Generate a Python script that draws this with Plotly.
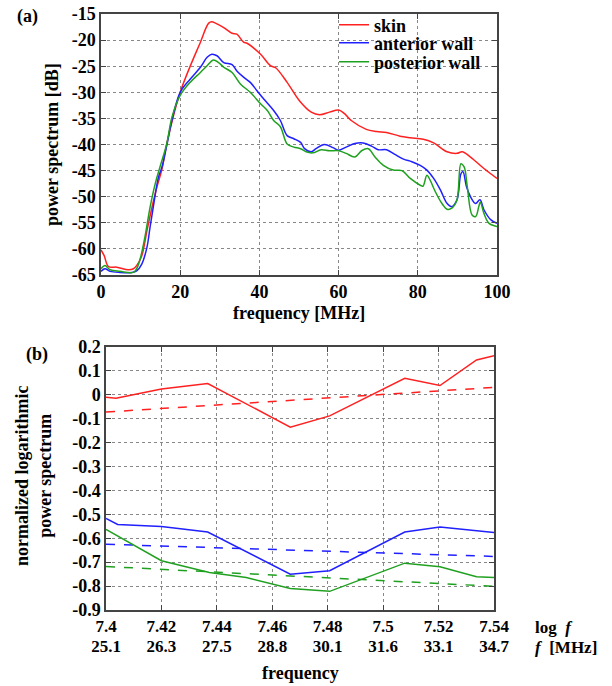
import plotly.graph_objects as go

# ---------------- Panel (a): power spectrum ----------------
skin_f = [0, 0.8, 1.9, 4, 6.9, 8.2, 9, 10.3, 11.6, 12.8, 14.1, 15.4, 16.6, 20, 25.1, 27.2, 28.0, 28.9,
          31.0, 33.1, 34.3, 36.0, 36.9, 40.3, 42.8, 44.1, 47.0, 50.1, 53.1, 55.2, 57.7, 60, 61.5, 63.2,
          67.0, 69.6, 72.1, 75.5, 78.1, 81.4, 84.0, 87.4, 89.9, 91.2, 93.3, 96.7, 100]
skin_db = [-60.2, -61.3, -63.4, -63.5, -64.0, -63.8, -63.2, -61.3, -56.5, -52.3, -48.2, -44.7, -39.9, -30.0,
           -20.4, -16.75, -16.5, -16.75, -17.6, -18.7, -18.85, -20.4, -20.6, -22.7, -24.9, -25.3, -28.1,
           -31.6, -33.8, -34.3, -33.8, -33.4, -34.1, -35.4, -37.1, -37.5, -37.7, -38.4, -38.7, -39.0,
           -39.7, -41.4, -41.7, -41.4, -42.4, -44.6, -46.5]

ant_f = [0, 1, 2.3, 4.8, 7.8, 9, 10.3, 11.6, 12.4, 13.2, 14.5, 15.4, 16.6, 17.9, 20, 22.5, 25.1, 26.8, 28.0,
         29.3, 31, 33.1, 34.3, 36, 37.7, 39.4, 41.1, 43.6, 45.3, 47, 48.7, 50.4, 51.4, 53.1, 54.3, 56.4,
         58.6, 60, 61.9, 64.1, 66.2, 68.3, 70.0, 72.1, 74.2, 76.4, 78.5, 80.6, 82.3, 84, 85.7, 87.4,
         88.6, 89.9, 90.9, 91.4, 92.3, 93.3, 94.6, 95.7, 96.7, 98.4, 100]
ant_db = [-64.3, -63.8, -64.3, -64.5, -64.5, -64.2, -62.9, -59.7, -55.8, -52.0, -46.3, -44.3, -40.2, -35.4,
          -30.0, -27.5, -25.2, -23.3, -22.7, -23.0, -24.3, -24.7, -25.9, -27.1, -28.1, -29.7, -31.3,
          -33.5, -35.4, -38.3, -38.9, -39.6, -40.8, -41.4, -40.8, -40.0, -40.6, -41.1, -40.5, -39.8,
          -39.7, -40.3, -41.0, -41.0, -41.9, -42.8, -43.3, -44.0, -44.9, -46.5, -48.7, -51.3, -51.9,
          -50.6, -45.6, -45.2, -48.1, -50.0, -51.3, -50.6, -52.5, -54.4, -55.1]

post_f = [0, 1, 2.3, 4.8, 8.2, 9, 9.9, 11.1, 12.4, 13.7, 14.9, 16.6, 17.9, 20, 22.5, 25.1, 26.8, 28.4, 29.7,
          31, 33.1, 35.2, 37.7, 40.3, 42, 43.6, 45.3, 47, 48.7, 50.4, 51.8, 53.5, 55.6, 57.7, 60, 61.9,
          64.1, 65.8, 67.5, 69.2, 71.3, 73.8, 76.0, 78.1, 80.6, 81.3, 82.3, 83.1, 84.4, 86.1, 87.4,
          88.6, 89.9, 90.9, 91.7, 92.5, 93.7, 94.6, 95.4, 95.8, 96.7, 98.0, 100]
post_db = [-63.8, -63.2, -64.0, -64.3, -64.5, -63.8, -61.9, -57.7, -52.0, -47.5, -44.3, -39.9, -34.8, -30.6,
           -28.1, -26.2, -24.9, -23.8, -24.3, -25.2, -26.2, -28.4, -30.0, -32.2, -33.5, -35.4, -36.6,
           -39.9, -40.5, -40.8, -41.4, -41.6, -41.0, -41.2, -41.2, -41.7, -42.4, -41.2, -40.8, -42.4,
           -44.0, -44.9, -45.0, -46.5, -47.8, -48.0, -45.9, -46.8, -49.0, -51.3, -52.4, -52.2, -50.6,
           -43.7, -44.3, -48.1, -53.5, -53.8, -51.9, -51.0, -53.2, -55.1, -55.7]

a_xticks = [0, 20, 40, 60, 80, 100]
a_yticks = [-65, -60, -55, -50, -45, -40, -35, -30, -25, -20, -15]

# ---------------- Panel (b): normalized log power spectrum ----------------
skin_logf = [7.400, 7.4036, 7.420, 7.4367, 7.4665, 7.4807, 7.5078, 7.5205, 7.5337, 7.540]
skin_val = [-0.010, -0.014, 0.024, 0.047, -0.135, -0.088, 0.069, 0.039, 0.146, 0.164]
ant_logf = [7.400, 7.4042, 7.420, 7.4367, 7.4665, 7.4807, 7.5078, 7.5205, 7.540]
ant_val = [-0.517, -0.542, -0.551, -0.574, -0.750, -0.736, -0.574, -0.553, -0.576]
post_logf = [7.400, 7.420, 7.4373, 7.4506, 7.4665, 7.4807, 7.5078, 7.5205, 7.5337, 7.540]
post_val = [-0.5625, -0.694, -0.743, -0.764, -0.810, -0.822, -0.704, -0.719, -0.761, -0.764]

fit_logf = [7.40, 7.54]
skin_fit = [-0.072, 0.031]
ant_fit = [-0.625, -0.676]
post_fit = [-0.718, -0.801]

b_xticks = [7.40, 7.42, 7.44, 7.46, 7.48, 7.50, 7.52, 7.54]
b_xlabels = ["7.4", "7.42", "7.44", "7.46", "7.48", "7.5", "7.52", "7.54"]
b_flabels = ["25.1", "26.3", "27.5", "28.8", "30.1", "31.6", "33.1", "34.7"]
b_yticks = [0.2, 0.1, 0.0, -0.1, -0.2, -0.3, -0.4, -0.5, -0.6, -0.7, -0.8, -0.9]
b_ylabels = ["0.2", "0.1", "0", "-0.1", "-0.2", "-0.3", "-0.4", "-0.5", "-0.6", "-0.7", "-0.8", "-0.9"]

names = ["skin", "anterior wall", "posterior wall"]
colors = ["#ff2020", "#2020ff", "#20a020"]
legend_ids = ["legend", "legend2", "legend3"]

W, H = 612, 686
FS = 18
fig = go.Figure()

for f, d, n, c, lg in zip([skin_f, ant_f, post_f], [skin_db, ant_db, post_db], names, colors, legend_ids):
    fig.add_trace(go.Scatter(x=f, y=d, mode="lines", name=n, line=dict(color=c, width=1.5),
                             xaxis="x", yaxis="y", line_shape="spline", legend=lg))

for lf, v, fv, c in zip([skin_logf, ant_logf, post_logf], [skin_val, ant_val, post_val],
                        [skin_fit, ant_fit, post_fit], colors):
    fig.add_trace(go.Scatter(x=lf, y=v, mode="lines", showlegend=False, line=dict(color=c, width=1.5),
                             xaxis="x2", yaxis="y2"))
    fig.add_trace(go.Scatter(x=fit_logf, y=fv, mode="lines", showlegend=False,
                             line=dict(color=c, width=1.5, dash="dash"), xaxis="x2", yaxis="y2"))

# transparent carrier trace so the secondary frequency axis (MHz labels) gets drawn
fig.add_trace(go.Scatter(x=fit_logf, y=skin_fit, mode="lines", showlegend=False, hoverinfo="skip",
                         line=dict(color="rgba(0,0,0,0)", width=0), xaxis="x3", yaxis="y2"))


def px_x(p):
    return p / W


def px_y(p):
    return (H - p) / H


axis_common = dict(showline=True, linecolor="#444", linewidth=1.5, mirror="ticks", ticks="inside",
                   ticklen=5, tickcolor="#444", showgrid=True, gridcolor="#888", griddash="dot",
                   gridwidth=1, zeroline=False, automargin=False)

legend_rows = [25, 43, 62]
legends = {}
for lg, row in zip(legend_ids, legend_rows):
    legends[lg] = dict(x=px_x(334), y=px_y(row), xanchor="left", yanchor="middle",
                       bgcolor="rgba(0,0,0,0)", font=dict(size=FS), itemwidth=30)

fig.update_layout(
    width=W, height=H, margin=dict(l=0, r=0, t=0, b=0),
    paper_bgcolor="white", plot_bgcolor="white",
    font=dict(family="Liberation Serif", size=FS, color="black", weight="bold"),
    xaxis=dict(domain=[px_x(101), px_x(497)], range=[0, 100], tickvals=a_xticks, anchor="y",
               **axis_common),
    yaxis=dict(domain=[px_y(275), px_y(14)], range=[-65, -15], tickvals=a_yticks, anchor="x",
               ticktext=[str(t) for t in a_yticks], **axis_common),
    xaxis2=dict(domain=[px_x(106), px_x(494)], range=[7.40, 7.54], tickvals=b_xticks, anchor="y2",
                ticktext=b_xlabels, tickfont=dict(size=17), **axis_common),
    xaxis3=dict(domain=[px_x(106), px_x(494)], range=[7.40, 7.54], tickvals=b_xticks,
                ticktext=b_flabels, overlaying="x2", anchor="free", position=px_y(634),
                tickfont=dict(size=17),
                showline=False, showgrid=False, ticks="", zeroline=False, automargin=False, side="bottom"),
    yaxis2=dict(domain=[px_y(610), px_y(347)], range=[-0.9, 0.2], tickvals=b_yticks, anchor="x2",
                ticktext=b_ylabels, **axis_common),
    showlegend=True,
    hovermode=False,
    **legends,
)

ann = [
    dict(text="(a)", x=px_x(27), y=px_y(16), xanchor="center", yanchor="middle"),
    dict(text="(b)", x=px_x(37), y=px_y(355), xanchor="center", yanchor="middle"),
    dict(text="power spectrum [dB]", x=px_x(52), y=px_y(145), textangle=-90,
         xanchor="center", yanchor="middle"),
    dict(text="frequency [MHz]", x=px_x(299), y=px_y(313), xanchor="center", yanchor="middle"),
    dict(text="normalized logarithmic<br>power spectrum", x=px_x(33), y=px_y(476), textangle=-90,
         xanchor="center", yanchor="middle"),
    dict(text="frequency", x=px_x(300), y=px_y(673), xanchor="center", yanchor="middle"),
    dict(text="log  <i>f</i>", x=px_x(533), y=px_y(627), xanchor="left", yanchor="middle",
         font=dict(size=17)),
    dict(text="<i>f</i>  [MHz]", x=px_x(533), y=px_y(647), xanchor="left", yanchor="middle",
         font=dict(size=17)),
]
for a in ann:
    a.update(xref="paper", yref="paper", showarrow=False)
fig.update_layout(annotations=ann)

fig.write_html("out.html", config={"displayModeBar": False},
               post_script="document.body.style.margin='0px';")
